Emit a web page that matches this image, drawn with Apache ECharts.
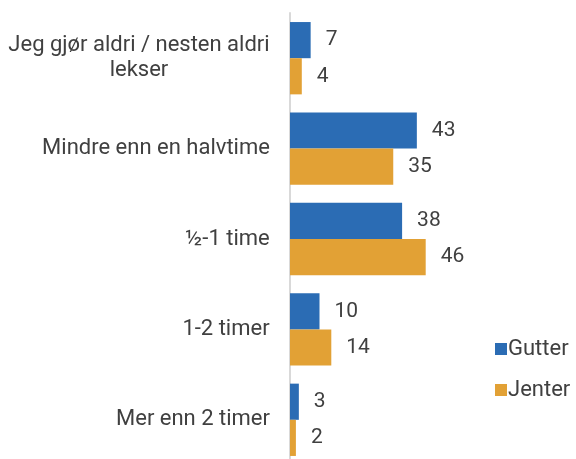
<!DOCTYPE html>
<html>
<head>
<meta charset="utf-8">
<script src="https://cdn.jsdelivr.net/npm/echarts@6/dist/echarts.min.js"></script>
<style>
  html, body { margin: 0; padding: 0; background: #fff; overflow: hidden; }
  #chart { width: 576px; height: 466px; }
</style>
</head>
<body>
<div id="chart"></div>
<script>
// kategorier, ovenfra og ned
var categories = ['Jeg gjør aldri / nesten aldri\nlekser', 'Mindre enn en halvtime', '½-1 time', '1-2 timer', 'Mer enn 2 timer'];
var gutter = [7, 43, 38, 10, 3];
var jenter = [4, 35, 46, 14, 2];

var textColor = '#404040';
var font = 'Roboto';
var labelSize = 22;

// bredeste linje i en kategori, så linjene kan sentreres mot hverandre
var ctx = document.createElement('canvas').getContext('2d');
ctx.font = labelSize + 'px ' + font;
function widest(lines) {
    return Math.ceil(Math.max.apply(null, lines.map(function (s) { return ctx.measureText(s).width; })));
}

var rich = {};
var labelMap = {};
categories.forEach(function (c, i) {
    var lines = c.split('\n');
    var key = 'c' + i;
    rich[key] = {align: 'center', width: widest(lines), fontSize: labelSize, color: textColor, fontFamily: font, lineHeight: 25};
    labelMap[c] = lines.map(function (s) { return '{' + key + '|' + s + '}'; }).join('\n');
});

var myChart = echarts.init(document.getElementById('chart'));
myChart.setOption({
    animation: false,
    textStyle: {fontFamily: font},
    legend: {
        orient: 'vertical',
        left: 490,
        top: 333,
        itemWidth: 12,
        itemHeight: 12,
        itemGap: 19,
        icon: 'rect',
        textStyle: {fontSize: 22, color: textColor, fontFamily: font, padding: [0, 0, 0, -4]},
        data: ['Gutter', 'Jenter']
    },
    grid: {
        left: 290,
        top: 13,
        width: 147.5,
        height: 452,
        containLabel: false
    },
    xAxis: {
        type: 'value',
        min: 0,
        max: 50,
        show: false
    },
    yAxis: {
        type: 'category',
        inverse: true,
        data: categories,
        axisLine: {lineStyle: {color: '#d9d9d9', width: 2}},
        axisTick: {length: 7, lineStyle: {color: '#d9d9d9', width: 2}},
        axisLabel: {
            margin: 20,
            color: textColor,
            fontSize: labelSize,
            fontFamily: font,
            formatter: function (v) { return labelMap[v]; },
            rich: rich
        }
    },
    series: [
        {
            name: 'Gutter',
            type: 'bar',
            data: gutter,
            barGap: '0%',
            barCategoryGap: '20%',
            itemStyle: {color: '#2b6cb4'},
            label: {show: true, position: 'right', distance: 15, fontSize: 21, color: textColor, fontFamily: font}
        },
        {
            name: 'Jenter',
            type: 'bar',
            data: jenter,
            barGap: '0%',
            barCategoryGap: '20%',
            itemStyle: {color: '#e2a135'},
            label: {show: true, position: 'right', distance: 15, fontSize: 21, color: textColor, fontFamily: font}
        }
    ]
});
</script>
</body>
</html>
